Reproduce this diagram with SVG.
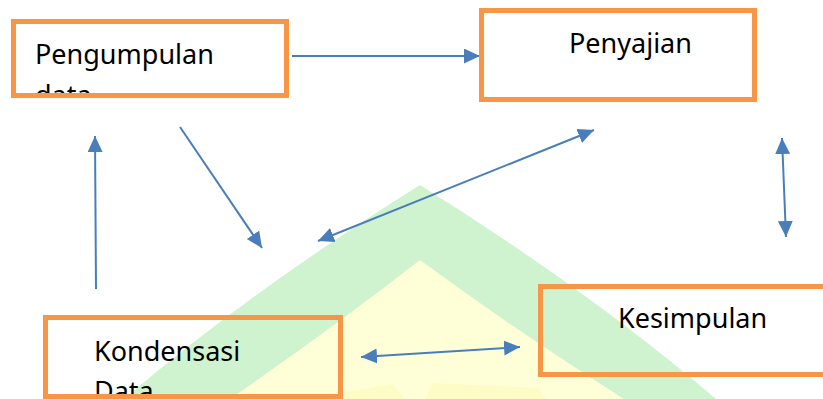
<svg xmlns="http://www.w3.org/2000/svg" width="823" height="399" viewBox="0 0 823 399">
  <defs>
    <style>
      .box { fill: none; stroke: #F79646; stroke-width: 5; }
      .lbl { font-family: "Noto Sans", "Open Sans", "DejaVu Sans", sans-serif; font-size: 27px; fill: #000; }
      .link { stroke: #4A7EBB; stroke-width: 2; fill: none; }
    </style>
    <marker id="head" markerUnits="userSpaceOnUse" markerWidth="17" markerHeight="16" refX="16" refY="7.5" orient="auto-start-reverse">
      <path d="M0,0 L16,7.5 L0,15 Z" fill="#4A7EBB"/>
    </marker>
    <clipPath id="clip-pengumpulan"><rect x="11" y="19" width="278" height="79"/></clipPath>
    <clipPath id="clip-kondensasi"><rect x="43" y="315" width="300" height="84"/></clipPath>
  </defs>

  <rect width="823" height="399" fill="#FFFFFF"/>

  <!-- background emblem: green pointed roof with a pale yellow body -->
  <g id="emblem">
    <path d="M420,185 Q249,292 124,399 L716,399 Q591,292 420,185 Z" fill="#CEF3CE"/>
    <path d="M420,260 Q330,330 230,399 L624,399 Q515,330 420,260 Z" fill="#FFFFD7"/>
    <path d="M345,399 L345,392 L392,384 L405,399 Z" fill="#FDFBC6"/>
    <path d="M425,399 L433,383 L538,388 L546,399 Z" fill="#FDFBC6"/>
  </g>

  <g id="connectors">
    <line class="link" x1="292" y1="56" x2="480" y2="56" marker-end="url(#head)"/>
    <line class="link" x1="96" y1="289" x2="95" y2="136" marker-end="url(#head)"/>
    <line class="link" x1="180" y1="127" x2="262" y2="248" marker-end="url(#head)"/>
    <line class="link" x1="318" y1="241" x2="594" y2="130" marker-start="url(#head)" marker-end="url(#head)"/>
    <line class="link" x1="782" y1="138" x2="786" y2="237" marker-start="url(#head)" marker-end="url(#head)"/>
    <line class="link" x1="361" y1="357" x2="520" y2="347" marker-start="url(#head)" marker-end="url(#head)"/>
  </g>

  <g id="pengumpulan-data">
    <g clip-path="url(#clip-pengumpulan)">
      <text class="lbl" x="35" y="64">Pengumpulan</text>
      <text class="lbl" x="35" y="105">data</text>
    </g>
    <rect class="box" x="13.5" y="21.5" width="273" height="74"/>
  </g>

  <g id="penyajian">
    <text class="lbl" x="569" y="53">Penyajian</text>
    <rect class="box" x="481.5" y="10.5" width="273" height="89"/>
  </g>

  <g id="kondensasi-data">
    <g clip-path="url(#clip-kondensasi)">
      <text class="lbl" x="94" y="361">Kondensasi</text>
      <text class="lbl" x="94" y="401">Data</text>
    </g>
    <rect class="box" x="45.5" y="317.5" width="295" height="79"/>
  </g>

  <g id="kesimpulan">
    <text class="lbl" x="618" y="328">Kesimpulan</text>
    <rect class="box" x="540.5" y="286.5" width="300" height="88"/>
  </g>
</svg>
